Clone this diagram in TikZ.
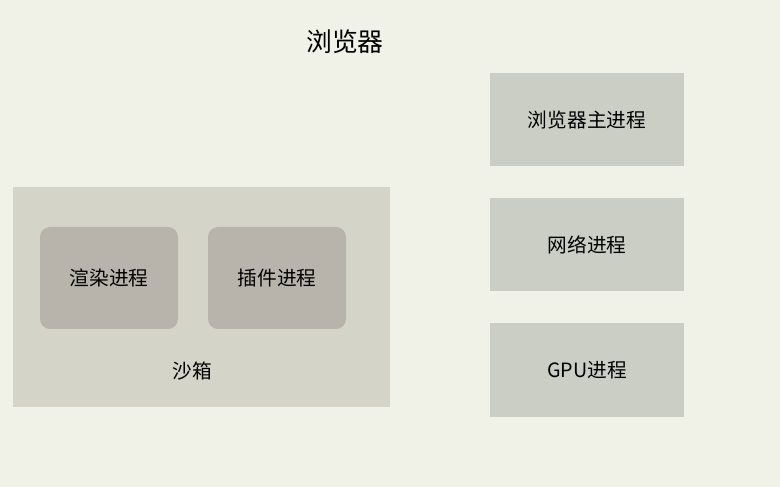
\documentclass[tikz,border=0pt]{standalone}
\usepackage{fontspec}
\setmainfont{Noto Sans CJK SC}
\usepackage{tikz}
\usepackage{xcolor}
\definecolor{bgcol}{HTML}{F0F2E8}
\definecolor{sandcol}{HTML}{D4D4C8}
\definecolor{proccol}{HTML}{B8B4AC}
\definecolor{maincol}{HTML}{CBCEC5}
\tikzset{
  mainbox/.style={fill=maincol,minimum width=3.88cm,minimum height=1.86cm,font=\fontsize{11.2pt}{13pt}\selectfont},
  procbox/.style={fill=proccol,rounded corners=0.2cm,minimum width=2.76cm,minimum height=2.04cm,font=\fontsize{11.2pt}{13pt}\selectfont}
}
\begin{document}
\begin{tikzpicture}
                    \fill[bgcol](0,0)rectangle(15.6,-9.74);
                    \useasboundingbox(0,0)rectangle(15.6,-9.74);
                    \node (title) at (6.9,-0.84){\fontsize{14.7pt}{17pt}\selectfont 浏览器};
                    \node[mainbox] (main) at (11.74,-2.40){浏览器主进程};
                    \node[mainbox] (net) at (11.74,-4.90){网络进程};
                    \node[mainbox] (gpu) at (11.74,-7.40){GPU进程};
                    \fill[sandcol](0.26,-3.74)rectangle(7.80,-8.14);
                    \node[procbox] (render) at (2.18,-5.56){渲染进程};
                    \node[procbox] (plugin) at (5.54,-5.56){插件进程};
                    \node[font=\fontsize{11.2pt}{13pt}\selectfont] (sandbox) at (3.84,-7.42){沙箱};
                \end{tikzpicture}
\end{document}
